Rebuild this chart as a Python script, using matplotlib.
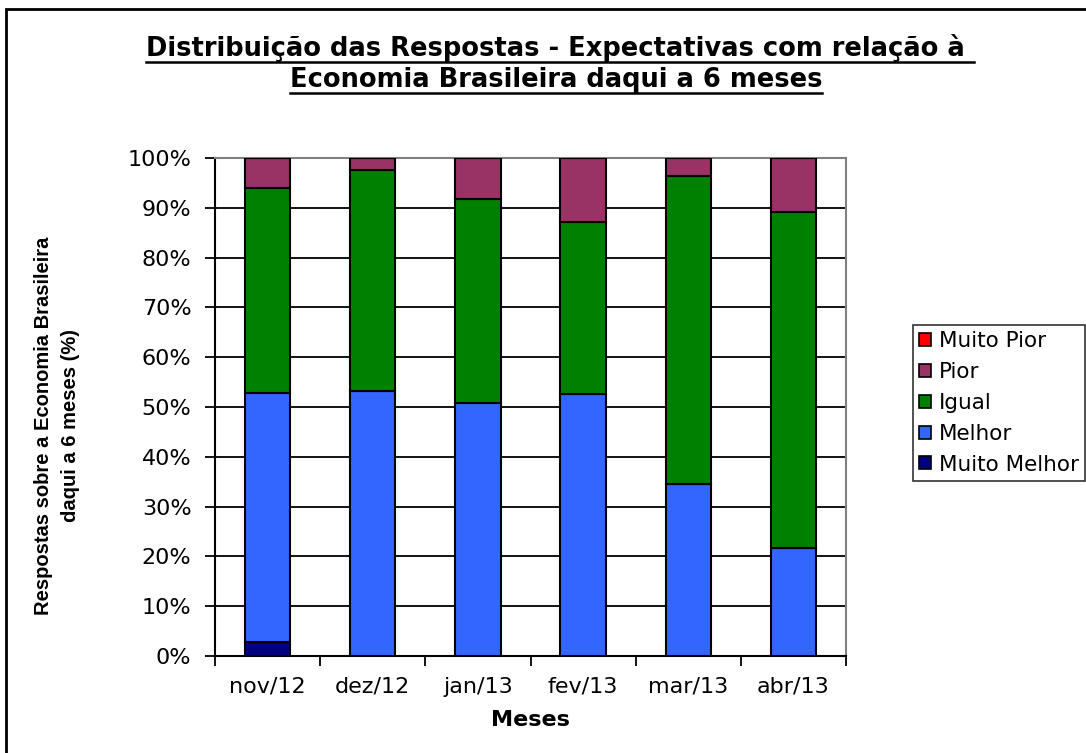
import matplotlib
matplotlib.use("Agg")
import matplotlib.pyplot as plt
import numpy as np
from matplotlib.patches import Rectangle
from matplotlib.lines import Line2D

meses = ["nov/12", "dez/12", "jan/13", "fev/13", "mar/13", "abr/13"]
series = ["Muito Melhor", "Melhor", "Igual", "Pior", "Muito Pior"]
muito_melhor = [2.8, 0.0, 0.0, 0.0, 0.0, 0.0]
melhor = [50.1, 53.3, 50.9, 52.6, 34.5, 21.7]
igual = [41.1, 44.2, 40.9, 34.5, 61.8, 67.5]
pior = [6.0, 2.5, 8.2, 12.9, 3.7, 10.8]
muito_pior = [0.0, 0.0, 0.0, 0.0, 0.0, 0.0]
cores = ["#000080", "#3366FF", "#008000", "#993366", "#FF0000"]

valores = [muito_melhor, melhor, igual, pior, muito_pior]

fig = plt.figure(figsize=(10.86, 7.53), dpi=100)
ax = fig.add_axes([215 / 1086, 1 - 656 / 753, 631 / 1086, 498 / 753])

x = np.arange(len(meses))
base = np.zeros(len(meses))
handles = []
for nome, vals, cor in zip(series, valores, cores):
    vals = np.array(vals)
    ax.bar(x, vals, 0.43, bottom=base, color=cor, edgecolor="black",
           linewidth=1.5, zorder=3)
    base += vals
    handles.append(Rectangle((0, 0), 1, 1, facecolor=cor, edgecolor="black",
                             linewidth=1.2))

ax.set_xlim(-0.5, len(meses) - 0.5)
ax.set_ylim(0, 100)
ax.set_yticks(np.arange(0, 101, 10))
ax.set_yticklabels([f"{v}%" for v in range(0, 101, 10)], fontsize=16,
                   family="DejaVu Sans")
ax.yaxis.grid(True, color="black", linewidth=1.3, zorder=0)
ax.set_axisbelow(True)

ax.set_xticks(x)
ax.set_xticklabels(meses, fontsize=16, family="DejaVu Sans")
ax.set_xticks(np.arange(-0.5, len(meses)), minor=True)
ax.tick_params(axis="x", which="major", length=0, pad=15)
ax.tick_params(axis="x", which="minor", length=7, width=1.3, direction="out")
ax.tick_params(axis="y", length=7, width=1.3, direction="out", pad=10)

for s in ["left", "bottom"]:
    ax.spines[s].set_color("black")
    ax.spines[s].set_linewidth(1.5)
for s in ["top", "right"]:
    ax.spines[s].set_color("#808080")
    ax.spines[s].set_linewidth(1.5)

ax.set_xlabel("Meses", fontsize=16, fontweight="bold", family="DejaVu Sans")
ax.xaxis.label.set_va("center")
ax.xaxis.set_label_coords(0.5, (656 - 720) / 498)
ax.set_ylabel("Respostas sobre a Economia Brasileira\ndaqui a 6 meses (%)",
              fontsize=14.5, fontweight="bold", family="Liberation Sans",
              linespacing=1.5)
ax.yaxis.label.set_va("center")
ax.yaxis.set_label_coords((57 - 215) / 631, (656 - 426) / 498)

# legenda na ordem inversa
leg = fig.legend(handles[::-1], series[::-1], loc="upper left",
                 bbox_to_anchor=(913 / 1086, 1 - 325 / 753),
                 fontsize=15.5, frameon=True, fancybox=False,
                 edgecolor="black", handlelength=0.55, handleheight=0.55,
                 handletextpad=0.35, labelspacing=0.5, borderpad=0.3,
                 borderaxespad=0)
leg.get_frame().set_linewidth(1.2)

# titulo sublinhado
t1 = fig.text(560 / 1086, 1 - 48 / 753,
              "Distribuição das Respostas - Expectativas com relação à ",
              ha="center", va="center", fontsize=18.5, fontweight="bold",
              family="DejaVu Sans")
t2 = fig.text(556 / 1086, 1 - 80 / 753,
              "Economia Brasileira daqui a 6 meses",
              ha="center", va="center", fontsize=18.5, fontweight="bold",
              family="DejaVu Sans")
fig.canvas.draw()
r = fig.canvas.get_renderer()
for t in (t1, t2):
    bb = t.get_window_extent(r).transformed(fig.transFigure.inverted())
    fig.add_artist(Line2D([bb.x0, bb.x1], [bb.y0 + 0.0, bb.y0 + 0.0],
                          color="black", linewidth=1.8,
                          transform=fig.transFigure))

# moldura externa
fig.add_artist(Rectangle((6 / 1086, -0.1), 1.2, 1 - 9 / 753 + 0.1,
                         fill=False, edgecolor="black", linewidth=2,
                         transform=fig.transFigure))

fig.savefig("out.png", dpi=100)
